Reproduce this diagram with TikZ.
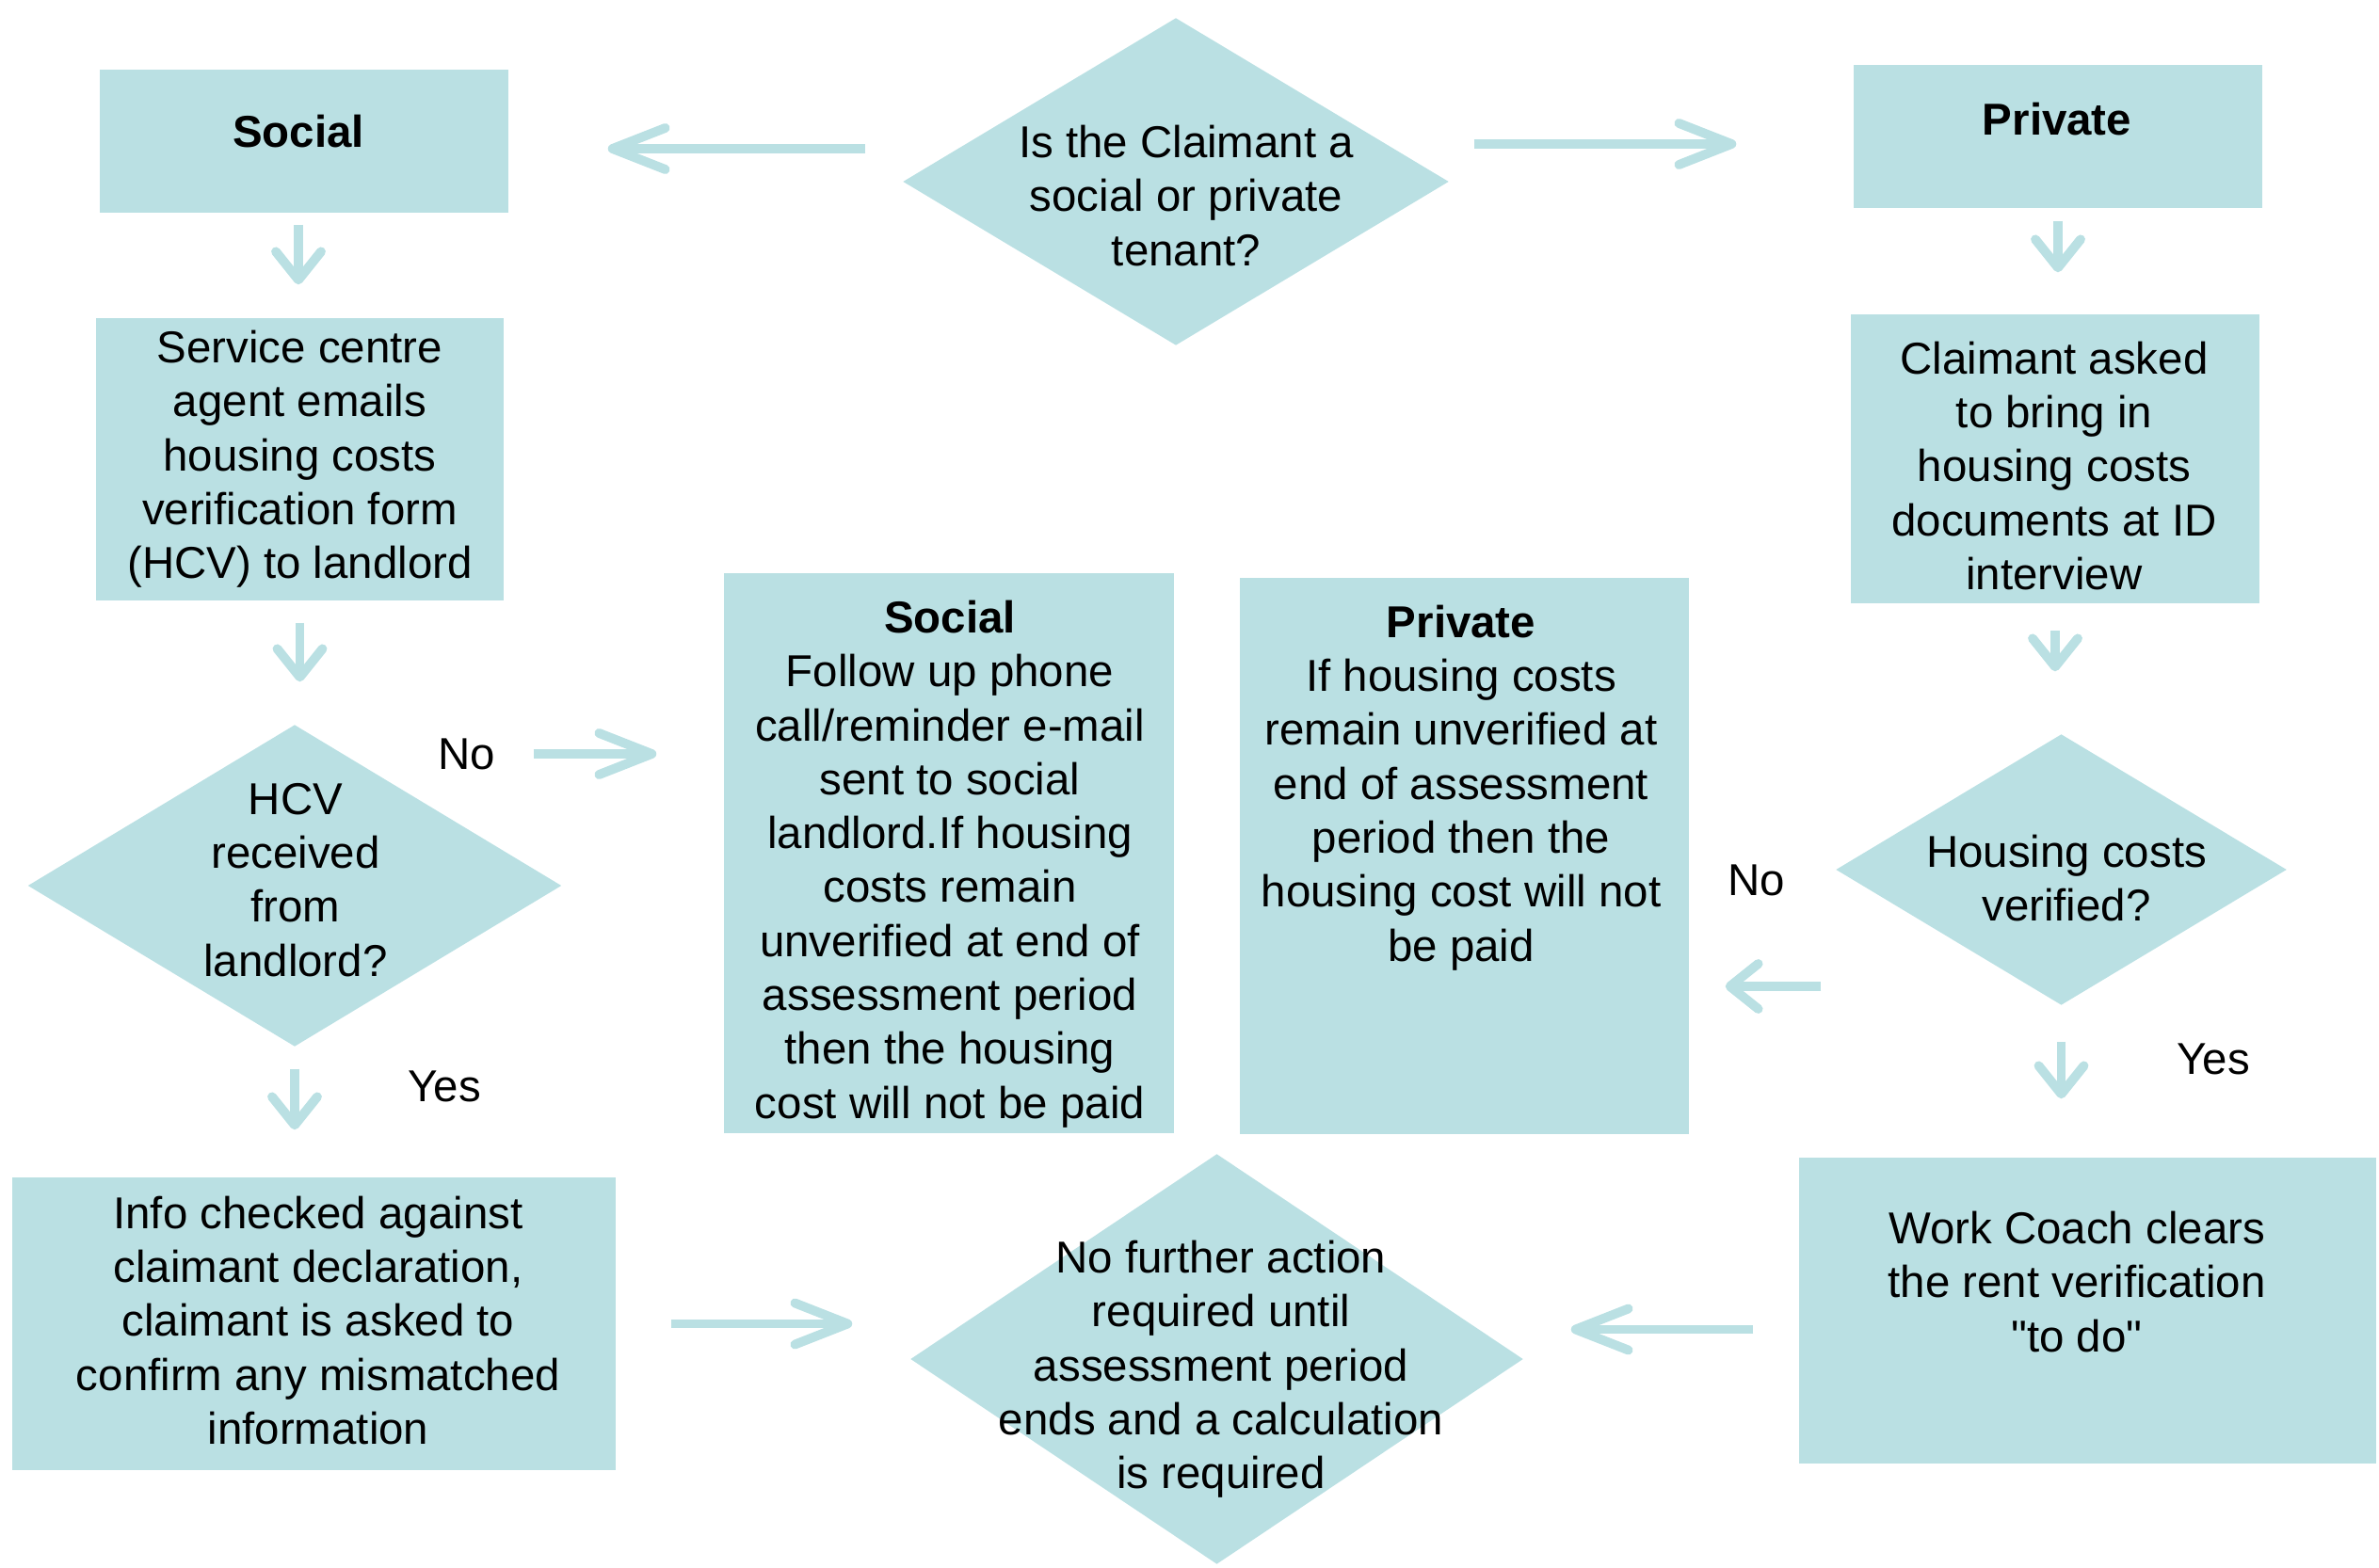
\documentclass[tikz,border=0pt]{standalone}
\usepackage{fontspec}
\setmainfont{Liberation Sans}
\usepackage{tikz}
\usetikzlibrary{arrows.meta,positioning,shapes.geometric}
\definecolor{vteal}{RGB}{186,224,227}
\tikzset{
  flow/.style={-{Straight Barb[length=5.6mm,width=4.4mm,round]}, line width=2.8pt, draw=vteal},
  flowdown/.style={-{Straight Barb[length=3.0mm,width=4.8mm,round]}, line width=2.8pt, draw=vteal},
  box/.style={
    fill=vteal,
    draw=none,
    align=center,
    inner sep=0pt,
    font=\fontsize{13.5}{16.3}\selectfont
  },
  decision/.style={diamond, fill=vteal, draw=none, inner sep=0pt},
  boxtext/.style={align=center, inner sep=0pt, font=\fontsize{13.5}{16.3}\selectfont},
  answer/.style={font=\fontsize{13.5}{16.3}\selectfont}
}
\begin{document}
\begin{tikzpicture}
  \useasboundingbox (0,0) rectangle (25.27,16.65);

  \node[decision,minimum width=5.80cm,minimum height=3.48cm] (tenant) at (12.49,14.72) {};
  \node[boxtext] (tenanttext) at (12.60,14.57) {Is the Claimant a\\social or private\\tenant?};
  \node[box,minimum width=4.34cm,minimum height=1.52cm] (social) at (3.23,15.15) {};
  \node[boxtext] (socialtext) at (3.17,15.25) {\textbf{Social}};
  \node[box,minimum width=4.34cm,minimum height=1.52cm] (private) at (21.86,15.20) {};
  \node[boxtext] (privatetext) at (21.85,15.38) {\textbf{Private}};
  \draw[flow,shorten <=0.39cm,shorten >=1.05cm] ([yshift=-0.08cm]tenant.west |- social.east) -- ([yshift=-0.08cm]social.east);
  \draw[flow,shorten <=0.26cm,shorten >=1.24cm] ([yshift=-0.08cm]tenant.east |- private.west) -- ([yshift=-0.08cm]private.west);

  \node[box,minimum width=4.33cm,minimum height=3.00cm] (service) at (3.185,11.77)
    {Service centre\\agent emails\\housing costs\\verification form\\(HCV) to landlord};
  \node[decision,minimum width=5.67cm,minimum height=3.42cm] (hcv) at (3.13,7.24) {};
  \node[boxtext] (hcvtext) at (3.14,7.30) {HCV\\received\\from\\landlord?};
  \node[answer] (hcvno) at (4.96,8.64) {No};
  \node[answer] (hcvyes) at (4.72,5.11) {Yes};
  \node[box,minimum width=6.41cm,minimum height=3.11cm] (info) at (3.335,2.585) {};
  \node[boxtext] (infotext) at (3.38,2.62)
    {Info checked against\\claimant declaration,\\claimant is asked to\\confirm any mismatched\\information};
  \draw[flowdown,shorten <=0.12cm,shorten >=0.35cm] ([xshift=-0.06cm]social.south) -- ([xshift=-0.06cm]social.south |- service.north);
  \draw[flowdown,shorten <=0.23cm,shorten >=0.45cm] (service.south) -- (service.south |- hcv.north);
  \draw[flowdown,shorten <=0.23cm,shorten >=0.50cm] (hcv.south) -- (hcv.south |- info.north);

  \node[box,minimum width=4.78cm,minimum height=5.95cm] (socialcheck) at (10.08,7.585) {};
  \node[boxtext] (socialchecktext) at (10.09,7.47)
    {\textbf{Social}\\Follow up phone\\call/reminder e-mail\\sent to social\\landlord.If housing\\costs remain\\unverified at end of\\assessment period\\then the housing\\cost will not be paid};
  \node[box,minimum width=4.77cm,minimum height=5.91cm] (privatecheck) at (15.555,7.555) {};
  \node[boxtext] (privatechecktext) at (15.52,8.28)
    {\textbf{Private}\\If housing costs\\remain unverified at\\end of assessment\\period then the\\housing cost will not\\be paid};
  \draw[flow,shorten <=0.28cm,shorten >=0.71cm] (hcvno.east) -- (socialcheck.west |- hcvno.east);

  \node[box,minimum width=4.34cm,minimum height=3.07cm] (claimant) at (21.83,11.775) {};
  \node[boxtext] (claimanttext) at (21.82,11.70)
    {Claimant asked\\to bring in\\housing costs\\documents at ID\\interview};
  \node[decision,minimum width=4.79cm,minimum height=2.88cm] (housing) at (21.895,7.41) {};
  \node[boxtext] (housingtext) at (21.95,7.32) {Housing costs\\verified?};
  \node[answer] (housingno) at (18.66,7.30) {No};
  \node[answer] (housingyes) at (23.51,5.40) {Yes};
  \node[box,minimum width=6.13cm,minimum height=3.25cm] (workcoach) at (22.175,2.725) {};
  \node[boxtext] (workcoachtext) at (22.06,3.03) {Work Coach clears\\the rent verification\\\textquotedbl to do\textquotedbl};
  \draw[flowdown,shorten <=0.13cm,shorten >=0.44cm] (private.south) -- (private.south |- claimant.north);
  \draw[flowdown,shorten <=0.28cm,shorten >=0.66cm] (claimant.south) -- (claimant.south |- housing.north);
  \draw[flowdown,shorten <=0.38cm,shorten >=0.62cm] (housing.south) -- (housing.south |- workcoach.north);
  \draw[flowdown,shorten <=0.15cm,shorten >=0.38cm] ([yshift=-1.24cm]housing.west) -- ([yshift=-1.24cm]housing.west -| privatecheck.east);

  \node[decision,minimum width=6.51cm,minimum height=4.36cm] (final) at (12.925,2.21) {};
  \node[boxtext] (finaltext) at (12.97,2.10)
    {No further action\\required until\\assessment period\\ends and a calculation\\is required};
  \draw[flow,shorten <=0.58cm,shorten >=0.61cm] (info.east) -- (info.east -| final.west);
  \draw[flow,shorten <=0.48cm,shorten >=0.50cm] ([yshift=-2mm]workcoach.west) -- ([yshift=-2mm]workcoach.west -| final.east);
\end{tikzpicture}
\end{document}
